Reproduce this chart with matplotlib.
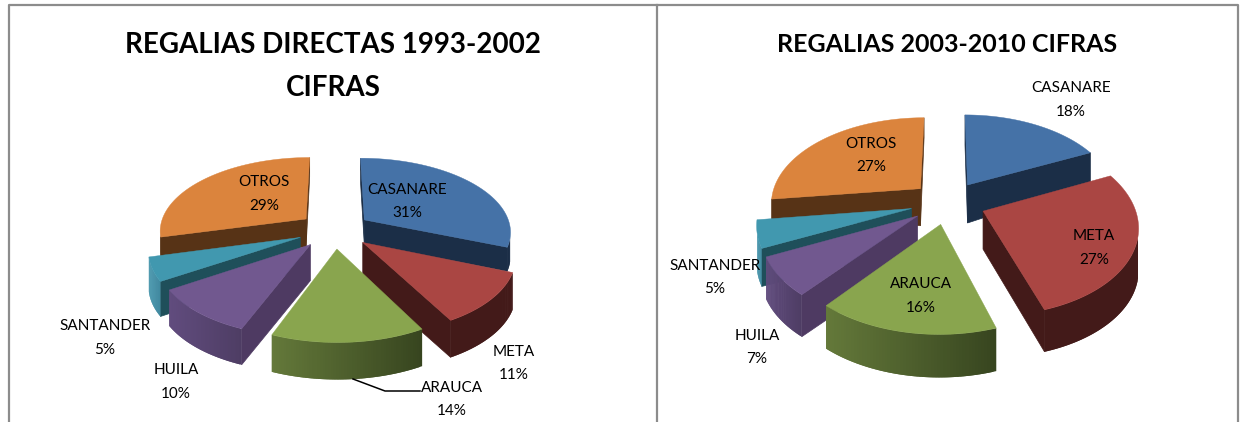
import numpy as np
import matplotlib
matplotlib.use('Agg')
import matplotlib.pyplot as plt

plt.rcParams['font.family'] = ['Lato', 'DejaVu Sans']

categories = ['CASANARE', 'META', 'ARAUCA', 'HUILA', 'SANTANDER', 'OTROS']
values_1993 = [31, 11, 14, 10, 5, 29]
values_2003 = [18, 27, 16, 7, 5, 27]

# top face, side wall, curved wall left end, curved wall right end
top_colors = ['#4572A7', '#AA4643', '#89A54E', '#71588F', '#4198AF', '#DB843D']
wall_colors = ['#1B2E47', '#431A19', '#39471F', '#4E3A62', '#1F4F5A', '#573316']
curve_left = ['#1B2E47', '#431A19', '#64793A', '#614C7E', '#3F93AB', '#573316']
curve_right = ['#1B2E47', '#431A19', '#37451F', '#4E3D64', '#37829A', '#573316']

EXPLODE = 0.25


def mix(c1, c2, t):
    a = np.array(matplotlib.colors.to_rgb(c1))
    b = np.array(matplotlib.colors.to_rgb(c2))
    return a + (b - a) * t


def draw_pie(ax, values, cx, cy, tilt, d, scale, depths):
    """3D exploded pie, perspective set by tilt/d, depths = (apex, rim) wall height per slice in px"""
    s, c = np.sin(tilt), np.cos(tilt)
    big = scale * d

    def project(X, Y):
        w = d + c * Y
        return cx + big * X / w, cy - big * s * Y / w

    cam_y = -d * c
    edges = 90 - np.cumsum([0] + values) * 3.6
    order = sorted(range(len(values)),
                   key=lambda i: -np.sin(np.radians((edges[i] + edges[i + 1]) / 2)))

    for i in order:
        a0, a1 = edges[i], edges[i + 1]
        mid = np.radians((a0 + a1) / 2)
        ox, oy = EXPLODE * np.cos(mid), EXPLODE * np.sin(mid)
        angles = np.radians(np.linspace(a0, a1, 60))
        rx = ox + np.cos(angles)
        ry = oy + np.sin(angles)
        px, py = project(rx, ry)
        ax0, ay0 = project(ox, oy)
        h_apex, h_rim = depths[i]

        # the two flat walls
        for k, normal in ((0, a0 + 90), (-1, a1 - 90)):
            n = np.radians(normal)
            if (0 - ox) * np.cos(n) + (cam_y - oy) * np.sin(n) > 0:
                ax.fill([ax0, px[k], px[k], ax0],
                        [ay0, py[k], py[k] + h_rim, ay0 + h_apex],
                        color=wall_colors[i], lw=0.5, zorder=2)

        # curved wall as narrow strips for the gradient, each overlaps the next one
        lo, hi = px.min(), px.max()
        for j in range(len(angles) - 1):
            am = (angles[j] + angles[j + 1]) / 2
            if (0 - rx[j]) * np.cos(am) + (cam_y - ry[j]) * np.sin(am) <= 0:
                continue
            t = ((px[j] + px[j + 1]) / 2 - lo) / max(hi - lo, 1)
            col = mix(curve_left[i], curve_right[i], t)
            e = min(j + 2, len(angles) - 1)
            ax.fill([px[j], px[j + 1], px[e], px[e], px[j + 1], px[j]],
                    [py[j], py[j + 1], py[e], py[e] + h_rim, py[j + 1] + h_rim, py[j] + h_rim],
                    facecolor=col, edgecolor='none', zorder=2)

        ax.fill(np.r_[ax0, px], np.r_[ay0, py], color=top_colors[i], lw=0.3, zorder=2)


def draw_labels(ax, values, positions):
    for name, val, (x, y) in zip(categories, values, positions):
        ax.text(x, y + 1.5, name, ha='center', va='center', fontsize=11, color='black', zorder=5)
        ax.text(x, y + 25, f'{val}%', ha='center', va='center', fontsize=11, color='black', zorder=5)


fig = plt.figure(figsize=(12.41, 4.22), dpi=100)
ax = fig.add_axes([0, 0, 1, 1])
ax.set_xlim(0, 1241)
ax.set_ylim(422, 0)
ax.axis('off')

# frame
frame = '#8C8C8C'
ax.plot([8.5, 8.5, 1238, 1238], [422, 5, 5, 422], color=frame, lw=1.6, zorder=1)
ax.plot([656.5, 656.5], [5, 422], color=frame, lw=1.6, zorder=1)

draw_pie(ax, values_1993, 334.5, 230, np.radians(30), 5.89, 147,
         [(24, 24), (37, 37), (38, 37), (36, 36), (33, 35), (28, 19)])
draw_pie(ax, values_2003, 948, 202.5, np.radians(34.75), 5.365, 150.4,
         [(38, 30), (38, 42), (42, 43), (42, 42), (40, 38), (37, 20)])

draw_labels(ax, values_1993, [(407, 188), (514, 350), (452, 386), (176, 369), (105, 325), (264, 181)])
draw_labels(ax, values_2003, [(1071, 87), (1094, 235), (921, 283), (757, 334), (715, 264), (871, 142)])

# arauca leader line
ax.plot([353, 385, 420], [379, 391, 391], color='black', lw=1.1, zorder=4)

ax.text(333, 45, 'REGALIAS DIRECTAS 1993-2002', ha='center', va='center', fontsize=20, fontweight='bold')
ax.text(333, 88, 'CIFRAS', ha='center', va='center', fontsize=20, fontweight='bold')
ax.text(947, 45, 'REGALIAS 2003-2010 CIFRAS', ha='center', va='center', fontsize=18, fontweight='bold')

fig.savefig('out.png', dpi=100)
